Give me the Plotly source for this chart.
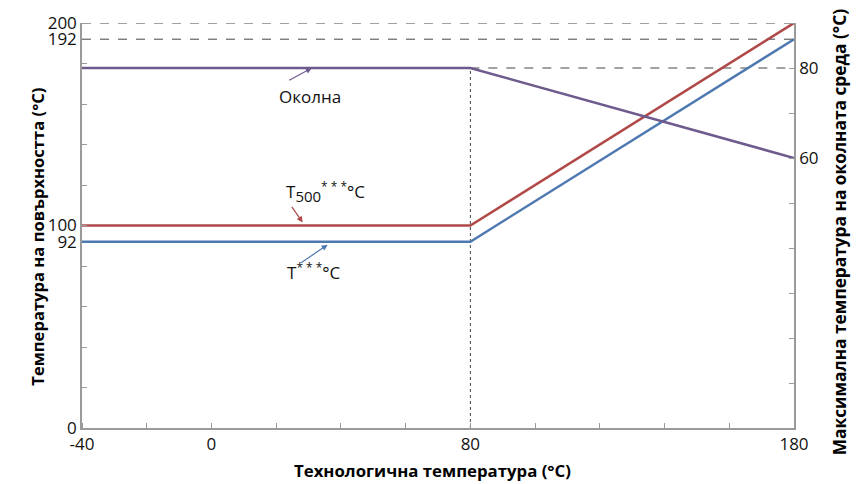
import plotly.graph_objects as go

# Process temperature (x) breakpoints
process_t = [-40, 80, 180]
# Surface temperature limits (left axis, °C)
t500_surface = [100, 100, 200]
t_surface = [92, 92, 192]
# Maximum ambient temperature (right axis, °C)
ambient_max = [80, 80, 60]

x_ticks = [-40, 0, 80, 180]
x_minor = list(range(-40, 181, 20))
y_left_ticks = [0, 92, 100, 192, 200]
y_left_minor = list(range(0, 201, 20))
y_right_ticks = [60, 80]
y_right_minor = list(range(0, 91, 10))

RED = "#b04848"
BLUE = "#4e79b0"
PURPLE = "#6e5a8c"
AXIS = "#9a9a9a"
FONT = "Open Sans"

RIGHT_MAX = 90.0
LEFT_MAX = 200.0
scale = LEFT_MAX / RIGHT_MAX  # right-axis value -> left-axis value

fig = go.Figure()

fig.add_trace(go.Scatter(x=process_t, y=t500_surface, mode="lines",
                         line=dict(color=RED, width=2.5), hoverinfo="skip",
                         showlegend=False))
fig.add_trace(go.Scatter(x=process_t, y=t_surface, mode="lines",
                         line=dict(color=BLUE, width=2.5), hoverinfo="skip",
                         showlegend=False))
fig.add_trace(go.Scatter(x=process_t, y=ambient_max, mode="lines", yaxis="y2",
                         line=dict(color=PURPLE, width=2.5), hoverinfo="skip",
                         showlegend=False))

dash = dict(color="#444444", width=1, dash="dash")
# guide lines at the end-point temperatures
fig.add_shape(type="line", xref="x", yref="y", x0=process_t[0], x1=process_t[-1],
              y0=t500_surface[-1], y1=t500_surface[-1], line=dash, layer="below")
fig.add_shape(type="line", xref="x", yref="y", x0=process_t[0], x1=process_t[-1],
              y0=t_surface[-1], y1=t_surface[-1], line=dash, layer="below")
fig.add_shape(type="line", xref="x", yref="y", x0=process_t[1], x1=process_t[-1],
              y0=ambient_max[0] * scale, y1=ambient_max[0] * scale, line=dash,
              layer="below")
fig.add_shape(type="line", xref="x", yref="y", x0=process_t[1], x1=process_t[1],
              y0=0, y1=ambient_max[0] * scale,
              line=dict(color="#444444", width=1, dash="dot"), layer="below")

label_font = dict(family=FONT, size=17, color="#111111")
sub_span = '<span style="font-size:15px">500</span>'

# series labels with pointer arrows
fig.add_annotation(x=31, y=ambient_max[0], xref="x", yref="y2", text="",
                   showarrow=True, arrowhead=2, arrowsize=1, arrowwidth=1.2,
                   arrowcolor=PURPLE, ax=-24, ay=13)
fig.add_annotation(x=30.4, y=163.6, xref="x", yref="y", text="Околна",
                   showarrow=False, font=label_font)

fig.add_annotation(x=28.2, y=t500_surface[0] + 1.5, xref="x", yref="y", text="",
                   showarrow=True, arrowhead=2, arrowsize=1, arrowwidth=1.2,
                   arrowcolor=RED, ax=-12, ay=-17)
fig.add_annotation(x=35.3, y=116.5, xref="x", yref="y",
                   text="T<sub>" + sub_span + "</sub><sup>* * *</sup>°C",
                   showarrow=False, font=label_font)

fig.add_annotation(x=35.9, y=t_surface[0] - 1.5, xref="x", yref="y", text="",
                   showarrow=True, arrowhead=2, arrowsize=1, arrowwidth=1.2,
                   arrowcolor=BLUE, ax=-28, ay=19)
fig.add_annotation(x=31.5, y=77.5, xref="x", yref="y",
                   text="T<sup>* * *</sup>°C",
                   showarrow=False, font=label_font)

fig.add_annotation(x=0.4916, y=-0.106, xref="paper", yref="paper",
                   text="<b>Технологична температура (°C)</b>", showarrow=False,
                   font=dict(family=FONT, size=16.8, color="#000000"),
                   yanchor="middle")
fig.add_annotation(x=-0.081, y=0.472, xref="paper", yref="paper",
                   text="<b>Температура на повърхността (°C)</b>", showarrow=False,
                   font=dict(family=FONT, size=16.6, color="#000000"),
                   textangle=-90)
fig.add_annotation(x=1.084, y=0.484, xref="paper", yref="paper",
                   text="<b>Максимална температура на околната среда (°C)</b>",
                   showarrow=False,
                   font=dict(family=FONT, size=17.3, color="#000000"),
                   textangle=-90)

tick_font = dict(family=FONT, size=17, color="#111111")
fig.update_layout(
    width=864, height=484,
    margin=dict(l=82, r=70, t=23, b=56),
    plot_bgcolor="white", paper_bgcolor="white",
    xaxis=dict(range=[process_t[0], process_t[-1]], tickmode="array",
               tickvals=x_ticks, ticktext=[str(v) for v in x_ticks],
               ticks="", showgrid=False, zeroline=False, showline=True,
               linecolor=AXIS, linewidth=1.5, tickfont=tick_font,
               minor=dict(tickmode="array", tickvals=x_minor, ticks="inside",
                          ticklen=5, tickcolor=AXIS, showgrid=False)),
    yaxis=dict(range=[0, LEFT_MAX], tickmode="array", tickvals=y_left_ticks,
               ticktext=[str(v) for v in y_left_ticks], ticks="",
               showgrid=False, zeroline=False, showline=True, linecolor=AXIS,
               linewidth=1.5, tickfont=tick_font,
               minor=dict(tickmode="array", tickvals=y_left_minor, ticks="inside",
                          ticklen=5, tickcolor=AXIS, showgrid=False)),
    yaxis2=dict(range=[0, RIGHT_MAX], overlaying="y", side="right",
                tickmode="array", tickvals=y_right_ticks,
                ticktext=[str(v) for v in y_right_ticks], ticks="",
                showgrid=False, zeroline=False, showline=True, linecolor=AXIS,
                linewidth=1.5, tickfont=tick_font,
                minor=dict(tickmode="array", tickvals=y_right_minor,
                           ticks="inside", ticklen=5, tickcolor=AXIS,
                           showgrid=False)),
)

fig.write_html("out.html")
